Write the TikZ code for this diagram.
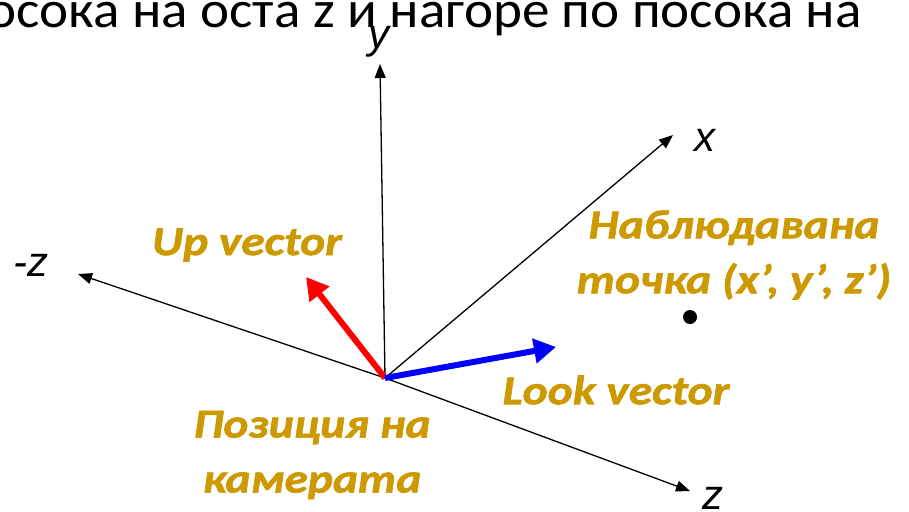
\documentclass[tikz,border=0pt]{standalone}
\usepackage{fontspec}
\setmainfont{Carlito}
\newfontfamily\lblfont[FakeStretch=1.16, BoldItalicFeatures={FakeBold=1.5}]{Carlito}
\newfontfamily\topfont[FakeStretch=1.06]{Carlito}
\newfontfamily\axfont{Liberation Sans}
\usetikzlibrary{arrows.meta}
\definecolor{gold}{HTML}{CC9900}
\begin{document}
\begin{tikzpicture}[x=1pt,y=-1pt,
 axis/.style={-{Triangle[length=14pt,width=11pt]}, line width=1.3pt},
 vec/.style={-{Triangle[length=22pt,width=24pt]}, line width=6pt},
 lbl/.style={text=gold, font=\lblfont\fontsize{41}{55}\selectfont\bfseries\itshape, align=center, inner sep=0},
 axlbl/.style={font=\axfont\itshape\fontsize{42}{42}\selectfont, inner sep=0}]
\useasboundingbox (0,0) rectangle (909,511);
\clip (0,0) rectangle (909,511);
\node[anchor=base east, inner sep=0, font=\topfont\fontsize{52}{52}\selectfont] (title) at (862,28) {осока на оста z и нагоре по посока на};
\coordinate (O) at (385,378);
\coordinate (ytip) at (380,64);
\coordinate (xtip) at (673,135);
\coordinate (mztip) at (78,274);
\coordinate (ztip) at (690,491);
\coordinate (uptip) at (306,277);
\coordinate (looktip) at (556,347);
\draw[axis] (O) -- (ytip);
\draw[axis] (O) -- (xtip);
\draw[axis] (O) -- (mztip);
\draw[axis] (O) -- (ztip);
\draw[vec, red] (O) -- (uptip);
\draw[vec, blue] (O) -- (looktip);
\fill (690,317) circle (7) coordinate (pt);
\node[axlbl] (ylbl) at (379,42) {y};
\node[axlbl] (xlbl) at (705,140) {x};
\node[axlbl] (mzlbl) at (31,265) {-z};
\node[axlbl] (zlbl) at (713,498) {z};
\node[lbl] (up) at (247,245) {Up vector};
\node[lbl] (look) at (616,390) {Look vector};
\node[lbl] (target) at (734,255) {Наблюдавана\\точка (x’, y’, z’)};
\node[lbl] (cam) at (312,455) {Позиция на\\камерата};
\end{tikzpicture}
\end{document}
